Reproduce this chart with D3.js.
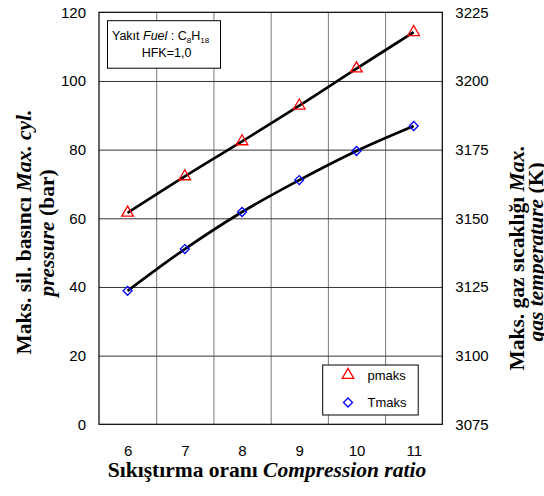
<!DOCTYPE html>
<html><head><meta charset="utf-8">
<script src="https://cdn.jsdelivr.net/npm/d3@7"></script>
<style>body{margin:0;background:#fff}svg{display:block}</style>
</head><body><svg id="c" width="544" height="496"></svg>
<script>
const ratios=[6,7,8,9,10,11];
const pmaks=[61.6,72.2,82.4,92.8,103.6,114.2];
const tmaks=[3123.6,3138.8,3152.3,3163.9,3174.5,3183.6];
const leftTicks=[0,20,40,60,80,100,120];
const rightTicks=[3075,3100,3125,3150,3175,3200,3225];
const gridX=[6.5,7.5,8.5,9.5,10.5];
const seriesNames=["pmaks","Tmaks"];

const svg=d3.select("#c");
const L=99,R=442.3,T=12.3,B=424.3;
const x=d3.scaleLinear().domain([5.5,11.5]).range([L,R]);
const yL=d3.scaleLinear().domain([0,120]).range([B,T]);
const yR=d3.scaleLinear().domain([3075,3225]).range([B,T]);
const sans="'Liberation Sans',Arial,sans-serif", serif="'Liberation Serif','Times New Roman',serif";

// gridlines
const gx=svg.append("g").attr("transform",`translate(0,${B})`)
  .call(d3.axisBottom(x).tickValues(gridX).tickSize(-(B-T)).tickFormat(""));
gx.select(".domain").remove();
gx.selectAll("line").attr("stroke","#777").attr("stroke-width",1);
const gy=svg.append("g").attr("transform",`translate(${L},0)`)
  .call(d3.axisLeft(yL).tickValues(leftTicks.slice(1,-1)).tickSize(-(R-L)).tickFormat(""));
gy.select(".domain").remove();
gy.selectAll("line").attr("stroke","#333").attr("stroke-width",1);

svg.append("rect").attr("x",L).attr("y",T).attr("width",R-L).attr("height",B-T)
  .attr("fill","none").attr("stroke","#000").attr("stroke-width",1.2);

// axes labels
const ax=svg.append("g").attr("transform",`translate(0,${B})`)
  .call(d3.axisBottom(x).tickValues(ratios).tickSize(0).tickPadding(21).tickFormat(d3.format("d")));
ax.select(".domain").remove();
ax.selectAll("text").attr("font-family",sans).attr("font-size",15).attr("fill","#000");
const al=svg.append("g").attr("transform",`translate(${L},0)`)
  .call(d3.axisLeft(yL).tickValues(leftTicks).tickSize(0).tickPadding(13).tickFormat(d3.format("d")));
al.select(".domain").remove();
al.selectAll("text").attr("font-family",sans).attr("font-size",15).attr("fill","#000");
const ar=svg.append("g").attr("transform",`translate(${R},0)`)
  .call(d3.axisRight(yR).tickValues(rightTicks).tickSize(0).tickPadding(13).tickFormat(d3.format("d")));
ar.select(".domain").remove();
ar.selectAll("text").attr("font-family",sans).attr("font-size",15).attr("fill","#000");

// lines
const lineP=d3.line().x((d,i)=>x(ratios[i])).y(d=>yL(d)).curve(d3.curveCatmullRom);
const lineT=d3.line().x((d,i)=>x(ratios[i])).y(d=>yR(d)).curve(d3.curveCatmullRom);
svg.append("path").attr("d",lineP(pmaks)).attr("fill","none").attr("stroke","#000").attr("stroke-width",2.7);
svg.append("path").attr("d",lineT(tmaks)).attr("fill","none").attr("stroke","#000").attr("stroke-width",2.7);

// markers
const tri=d3.symbol().type(d3.symbolTriangle).size(58);
const sq=d3.symbol().type(d3.symbolSquare).size(40);
svg.selectAll(".pm").data(pmaks).join("path").attr("class","pm")
  .attr("transform",(d,i)=>`translate(${x(ratios[i])},${yL(d)})`).attr("d",tri())
  .attr("fill","none").attr("stroke","#f00").attr("stroke-width",1.3);
svg.selectAll(".tm").data(tmaks).join("path").attr("class","tm")
  .attr("transform",(d,i)=>`translate(${x(ratios[i])},${yR(d)}) rotate(45)`).attr("d",sq())
  .attr("fill","none").attr("stroke","#00f").attr("stroke-width",1.3);

// info box
svg.append("rect").attr("x",107.5).attr("y",20.7).attr("width",113).attr("height",47.5)
  .attr("fill","#fff").attr("stroke","#000").attr("stroke-width",1);
const t1=svg.append("text").attr("x",112).attr("y",39.5).attr("font-family",sans).attr("font-size",12.5);
t1.append("tspan").text("Yakıt ");
t1.append("tspan").attr("font-style","italic").text("Fuel");
t1.append("tspan").text(" : C");
t1.append("tspan").attr("font-size",8).attr("dy",3).text("8");
t1.append("tspan").attr("dy",-3).text("H");
t1.append("tspan").attr("font-size",8).attr("dy",3).text("18");
svg.append("text").attr("x",166.5).attr("y",56.7).attr("text-anchor","middle")
  .attr("font-family",sans).attr("font-size",12.5).text("HFK=1,0");

// legend
svg.append("rect").attr("x",322.7).attr("y",365).attr("width",95.5).attr("height",50)
  .attr("fill","#fff").attr("stroke","#000").attr("stroke-width",1);
const lg=[{y:375,sym:tri,c:"#f00",rot:0},{y:402.5,sym:sq,c:"#00f",rot:45}];
lg.forEach((o,i)=>{
  svg.append("path").attr("transform",`translate(348,${o.y}) rotate(${o.rot})`).attr("d",o.sym())
    .attr("fill","none").attr("stroke",o.c).attr("stroke-width",1.3);
  svg.append("text").attr("x",367.5).attr("y",o.y+4.5).attr("font-family",sans).attr("font-size",13).text(seriesNames[i]);
});

// axis titles
const FS=21.5;
const xt=svg.append("text").attr("x",267).attr("y",477).attr("text-anchor","middle")
  .attr("font-family",serif).attr("font-weight","bold").attr("font-size",FS);
xt.append("tspan").text("Sıkıştırma oranı ");
xt.append("tspan").attr("font-style","italic").text("Compression ratio");

const yt=svg.append("text").attr("transform","translate(31,232) rotate(-90)").attr("text-anchor","middle")
  .attr("font-family",serif).attr("font-weight","bold").attr("font-size",FS);
yt.append("tspan").text("Maks. sil. basıncı ");
yt.append("tspan").attr("font-style","italic").text("Max. cyl.");
const yt2=svg.append("text").attr("transform","translate(54,233) rotate(-90)").attr("text-anchor","middle")
  .attr("font-family",serif).attr("font-weight","bold").attr("font-size",FS);
yt2.append("tspan").attr("font-style","italic").text("pressure");
yt2.append("tspan").text(" (bar)");

const rt=svg.append("text").attr("transform","translate(524,258) rotate(-90)").attr("text-anchor","middle")
  .attr("font-family",serif).attr("font-weight","bold").attr("font-size",FS);
rt.append("tspan").text("Maks. gaz sıcaklığı ");
rt.append("tspan").attr("font-style","italic").text("Max.");
const rt2=svg.append("text").attr("transform","translate(543,252) rotate(-90)").attr("text-anchor","middle")
  .attr("font-family",serif).attr("font-weight","bold").attr("font-size",FS);
rt2.append("tspan").attr("font-style","italic").text("gas temperature");
rt2.append("tspan").text(" (K)");
</script></body></html>
